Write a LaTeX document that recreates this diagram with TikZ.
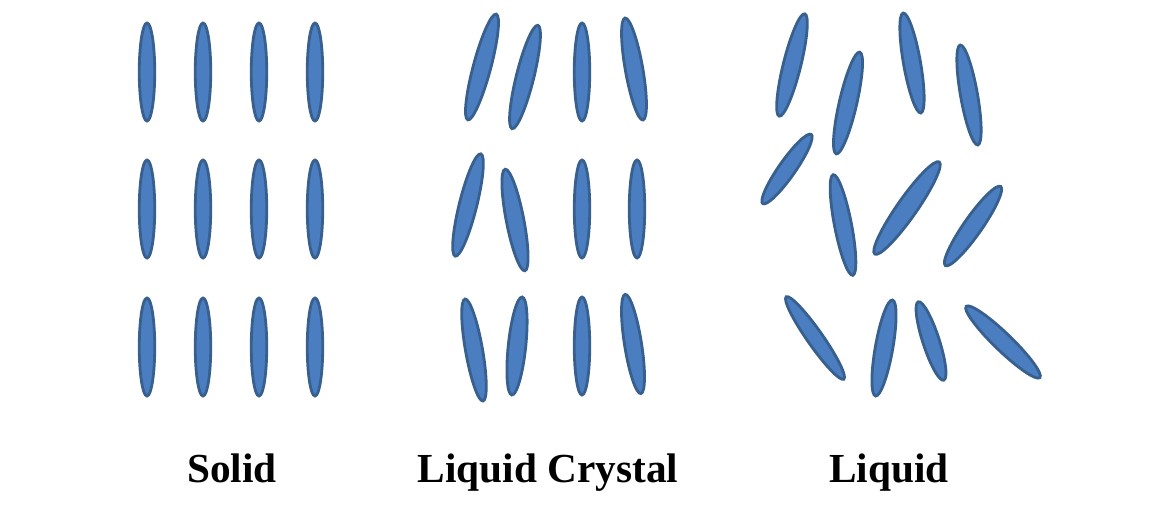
\documentclass[tikz,border=0pt]{standalone}
\usepackage{fontspec}
\setmainfont{Liberation Serif}
\usepackage{xcolor}
\definecolor{molFill}{HTML}{4A7EC1}
\definecolor{molLine}{HTML}{38608F}
\usepackage{tikz}
\usetikzlibrary{shapes.geometric}

\begin{document}
\begin{tikzpicture}[
		x=0.02cm, y=-0.02cm,
		mol/.style={ellipse, draw=molLine, fill=molFill, line width=1.6pt,
			inner sep=0pt, minimum width=0.31cm, minimum height=#1},
		mol/.default=1.96cm,
		phase/.style={anchor=base, font=\bfseries\fontsize{23.5}{28}\selectfont}
	]
	\useasboundingbox (0,0) rectangle (1165,531);

	% ===== Solid: upright rows =====
	\node[mol] (s11) at (147,72)  {};
	\node[mol] (s12) at (203,72)  {};
	\node[mol] (s13) at (259,72)  {};
	\node[mol] (s14) at (315,72)  {};
	\node[mol] (s21) at (147,209) {};
	\node[mol] (s22) at (203,209) {};
	\node[mol] (s23) at (259,209) {};
	\node[mol] (s24) at (315,209) {};
	\node[mol] (s31) at (147,347) {};
	\node[mol] (s32) at (203,347) {};
	\node[mol] (s33) at (259,347) {};
	\node[mol] (s34) at (315,347) {};

	% ===== Liquid crystal: rows kept, some tilt =====
	\node[mol=2.19cm, minimum width=0.35cm, rotate=-15] (c11) at (482,67)  {};
	\node[mol=2.13cm, minimum width=0.35cm, rotate=-14] (c12) at (525,77)  {};
	\node[mol]                                          (c13) at (582,72)  {};
	\node[mol=2.07cm, minimum width=0.35cm, rotate=10]  (c14) at (634,69)  {};
	\node[mol=2.11cm, minimum width=0.35cm, rotate=-14] (c21) at (468,205) {};
	\node[mol=2.07cm, minimum width=0.35cm, rotate=11]  (c22) at (515,220) {};
	\node[mol]                                          (c23) at (582,209) {};
	\node[mol]                                          (c24) at (637,209) {};
	\node[mol=2.07cm, minimum width=0.34cm, rotate=10]  (c31) at (474,350) {};
	\node[mol=1.97cm, minimum width=0.35cm, rotate=-6]  (c32) at (517,346) {};
	\node[mol]                                          (c33) at (582,346) {};
	\node[mol=2.01cm, minimum width=0.34cm, rotate=9]   (c34) at (633,344) {};

	% ===== Liquid: no order at all =====
	\node[mol=2.11cm, minimum width=0.35cm, rotate=-14] (l1)  at (792,65)  {};
	\node[mol=2.09cm, minimum width=0.35cm, rotate=-13] (l2)  at (848,103) {};
	\node[mol=2.03cm, minimum width=0.34cm, rotate=10]  (l3)  at (912,63)  {};
	\node[mol=2.03cm, minimum width=0.34cm, rotate=10]  (l4)  at (969,95)  {};
	\node[mol=1.69cm, minimum width=0.33cm, rotate=-35] (l5)  at (787,169) {};
	\node[mol=2.05cm, minimum width=0.34cm, rotate=11]  (l6)  at (843,225) {};
	\node[mol=2.25cm, minimum width=0.39cm, rotate=-35] (l7)  at (907,208) {};
	\node[mol=1.93cm, minimum width=0.36cm, rotate=-35] (l8)  at (973,226) {};
	\node[mol=2.01cm, minimum width=0.31cm, rotate=35]  (l9)  at (815,338) {};
	\node[mol=1.95cm, minimum width=0.35cm, rotate=-10] (l10) at (884,348) {};
	\node[mol=1.65cm, minimum width=0.33cm, rotate=18]  (l11) at (931,341) {};
	\node[mol=2.05cm, minimum width=0.35cm, rotate=46]  (l12) at (1003,342) {};

	% ===== Phase names =====
	\node[phase] (tSolid)   at (232,482) {Solid};
	\node[phase] (tCrystal) at (548,482) {Liquid Crystal};
	\node[phase] (tLiquid)  at (889,482) {Liquid};
\end{tikzpicture}
\end{document}
